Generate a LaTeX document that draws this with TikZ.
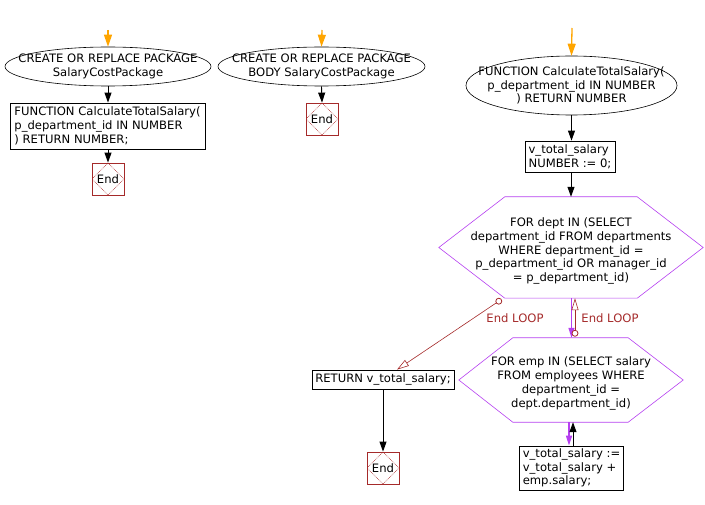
\documentclass[tikz,border=0pt]{standalone}
\usepackage{fontspec}
\setmainfont{DejaVu Sans}
\usetikzlibrary{arrows.meta}
\usetikzlibrary{shapes.geometric}
\definecolor{entryor}{RGB}{255,165,0}
\definecolor{loopvio}{RGB}{182,64,240}
\definecolor{endred}{RGB}{165,42,42}
\tikzset{
 every node/.style={font=\fontsize{11.6}{13.7}\selectfont},
 startell/.style={draw,ellipse,inner sep=0pt,line width=0.6pt},
 stmt/.style={draw,rectangle,inner xsep=3pt,inner ysep=0pt,align=left,line width=0.8pt},
 endbox/.style={draw=endred,rectangle,minimum size=32pt,inner sep=0pt,line width=0.8pt,
  path picture={\draw[endred,densely dotted,line width=0.7pt] (path picture bounding box.north) -- (path picture bounding box.east) -- (path picture bounding box.south) -- (path picture bounding box.west) -- cycle;}},
 loopbox/.style={rectangle,inner sep=0pt},
 looptext/.style={align=center,yshift=-3.5pt},
 hexline/.style={loopvio,line width=0.6pt},
 flow/.style={-{Triangle[length=10pt,width=7pt]},line width=0.9pt},
 entry/.style={entryor,line width=1.3pt,-{Triangle[length=12pt,width=8pt]}},
 loopflow/.style={loopvio,line width=1.4pt,-{Triangle[length=10pt,width=6pt]}},
 endloop/.style={endred,line width=0.6pt,-{Triangle[open,length=12pt,width=7pt]}},
 loopdot/.style={endred,line width=0.8pt,fill=white},
 looplbl/.style={text=endred,inner sep=0pt}
}
\begin{document}
\begin{tikzpicture}[x=1pt,y=-1pt]
\useasboundingbox (0,0) rectangle (705,505);
\node[startell,minimum width=206pt,minimum height=39pt,label={[align=center]center:{CREATE OR REPLACE PACKAGE\\SalaryCostPackage}}] (e1) at (108,66.5) {};
\node[stmt,minimum width=195pt,minimum height=46pt] (b1) at (107.5,126) {FUNCTION CalculateTotalSalary(\\p\_department\_id IN NUMBER\\) RETURN NUMBER;};
\node[endbox] (end1) at (108,179) {End};
\node[startell,minimum width=207pt,minimum height=39pt,label={[align=center]center:{CREATE OR REPLACE PACKAGE\\BODY SalaryCostPackage}}] (e2) at (321.5,66.5) {};
\node[endbox] (end2) at (322,119) {End};
\node[startell,minimum width=211pt,minimum height=59pt,label={[align=center]center:{FUNCTION CalculateTotalSalary(\\p\_department\_id IN NUMBER\\) RETURN NUMBER}}] (e3) at (571.5,85.5) {};
\node[stmt,minimum width=90pt,minimum height=31pt] (b2) at (570,156.5) {v\_total\_salary\\NUMBER := 0;};
\node[loopbox,minimum width=264pt,minimum height=101pt,label={[looptext]center:{FOR dept IN (SELECT\\department\_id FROM departments\\WHERE department\_id =\\p\_department\_id OR manager\_id\\= p\_department\_id)}}] (h1) at (571,247.5) {};
\node[loopbox,minimum width=224pt,minimum height=84pt,label={[looptext]center:{FOR emp IN (SELECT salary\\FROM employees WHERE\\department\_id =\\dept.department\_id)}}] (h2) at (571,380) {};
\node[stmt,minimum width=101pt,minimum height=44pt] (b3) at (571.5,468) {v\_total\_salary :=\\v\_total\_salary +\\emp.salary;};
\node[stmt,align=center,minimum width=142pt,minimum height=19pt] (ret) at (383,379.5) {RETURN v\_total\_salary;};
\node[endbox] (end3) at (383,468) {End};
\node[looplbl] (lbl1) at (515,318) {End LOOP};
\node[looplbl] (lbl2) at (610,318) {End LOOP};
\draw[hexline] (h1.west) -- ([xshift=66pt]h1.north west) -- ([xshift=-66pt]h1.north east) -- (h1.east) -- ([xshift=-66pt]h1.south east) -- ([xshift=66pt]h1.south west) -- cycle;
\draw[hexline] (h2.west) -- ([xshift=54pt]h2.north west) -- ([xshift=-55pt]h2.north east) -- (h2.east) -- ([xshift=-55pt]h2.south east) -- ([xshift=54pt]h2.south west) -- cycle;
\coordinate (in1) at (108,30);
\coordinate (in2) at (322,30);
\coordinate (in3) at (572,28);
\coordinate (lp1) at ([xshift=60pt,yshift=-3pt]h1.south west);
\coordinate (lp2) at ([xshift=4pt,yshift=4.5pt]h2.north);
\draw[entry] (in1) -- (e1.north);
\draw[entry] (in2) -- (e2.north);
\draw[entry] (in3) -- (e3.north);
\draw[flow] (e1.south) -- (e1.south |- b1.north);
\draw[flow] (b1.south -| end1.north) -- (end1.north);
\draw[flow] (e2.south) -- (end2.north);
\draw[flow] (e3.south) -- (e3.south |- b2.north);
\draw[flow] (b2.south -| h1.north) -- (h1.north);
\draw[loopflow] ([xshift=0.5pt]h1.south) -- ([xshift=0.5pt]h2.north);
\draw[endloop] (lp2) -- (lp2 |- h1.south);
\draw[loopflow] ([xshift=-2pt]h2.south) -- ([xshift=-2pt]h2.south |- b3.north);
\draw[flow] ([xshift=1.5pt]b3.north) -- ([xshift=1.5pt]b3.north |- h2.south);
\draw[endloop] (lp1) -- ([xshift=14pt]ret.north);
\draw[loopdot] (lp1) circle (3pt);
\draw[loopdot] (lp2) circle (3pt);
\draw[flow] (ret.south) -- (end3.north);
\end{tikzpicture}
\end{document}
